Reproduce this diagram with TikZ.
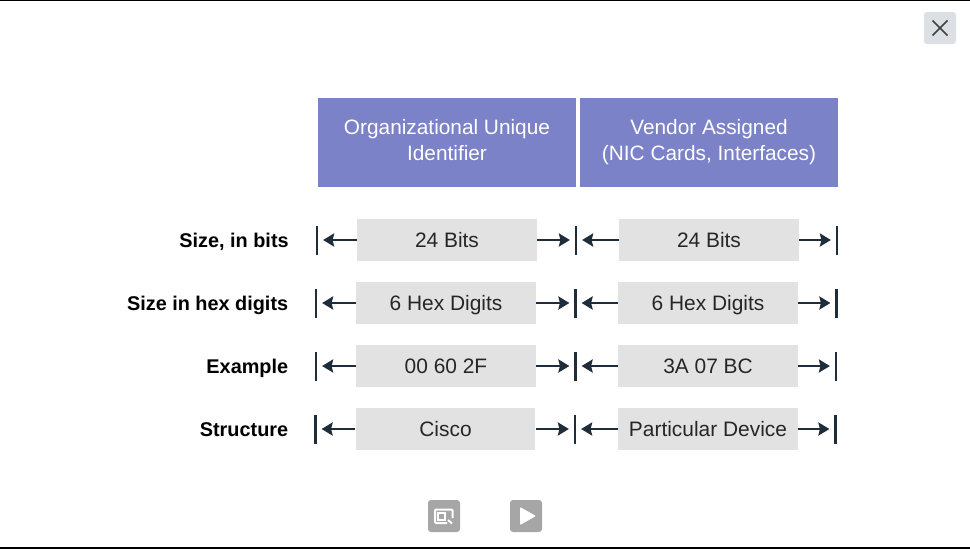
\documentclass[tikz,border=0pt]{standalone}
\usepackage{fontspec}
\setmainfont{Liberation Sans}
\usetikzlibrary{arrows.meta}
\definecolor{headblue}{HTML}{7C82C8}
\definecolor{cellgray}{HTML}{E2E2E2}
\definecolor{linedark}{HTML}{1F2D3A}
\definecolor{btngray}{HTML}{A6A6A6}
\definecolor{closegray}{HTML}{DCDFE3}
\tikzset{
  head/.style={fill=headblue,text=white,minimum width=5.16cm,minimum height=1.78cm,inner sep=0pt,align=center,font=\fontsize{11.85}{14.3}\selectfont},
  cell/.style={fill=cellgray,text=black!85,minimum width=3.6cm,minimum height=0.84cm,inner sep=0pt,text height=9.2pt,text depth=0.7pt,font=\fontsize{11.9}{13}\selectfont},
  rowlabel/.style={anchor=east,inner sep=0pt,text=black,text height=8.9pt,text depth=0.8pt,font=\fontsize{11.3}{13}\selectfont\bfseries},
  tick/.style={fill=linedark,minimum width=0.05cm,minimum height=0.58cm,inner sep=0pt},
  conn/.style={draw=linedark,line width=0.05cm,-{Stealth[length=0.22cm,width=0.26cm,inset=0.03cm]},shorten >=0.09cm},
  btn/.style={rounded corners=0.06cm,minimum size=0.64cm,inner sep=0pt}
}
\begin{document}
\begin{tikzpicture}[x=0.02cm,y=-0.02cm]
  \useasboundingbox (0,0) rectangle (970,549);
  \fill[white] (0,0) rectangle (970,549);
  \fill[black] (0,0) rectangle (970,1);
  \fill[black] (0,547) rectangle (970,548.5);
  % headers
  \node[head] (oui) at (447,142.5) {Organizational Unique\strut\\Identifier\strut};
  \node[head] (vendor) at (709,142.5) {Vendor Assigned\strut\\(NIC Cards, Interfaces)\strut};
  % row labels
  \node[rowlabel] (lbits) at (289,240) {Size, in bits};
  \node[rowlabel] (lhex) at (288.5,303) {Size in hex digits};
  \node[rowlabel] (lexample) at (288.5,366) {Example};
  \node[rowlabel] (lstruct) at (288.5,429.5) {Structure};
  % cells
  \node[cell] (bitsa) at (447,240) {24 Bits};
  \node[cell] (bitsb) at (709,240) {24 Bits};
  \node[cell] (hexa) at (446,303) {6 Hex Digits};
  \node[cell] (hexb) at (708,303) {6 Hex Digits};
  \node[cell] (exa) at (446,366) {00 60 2F};
  \node[cell] (exb) at (708,366) {3A 07 BC};
  \node[cell] (structa) at (445.5,429) {Cisco};
  \node[cell] (structb) at (708,429) {Particular Device};
  % ticks
  \node[tick] (bitst0) at (317,240) {};
  \node[tick] (bitst1) at (576,240) {};
  \node[tick] (bitst2) at (837,240) {};
  \node[tick] (hext0) at (316,303) {};
  \node[tick] (hext1) at (575.5,303) {};
  \node[tick] (hext2) at (836.5,303) {};
  \node[tick] (ext0) at (316,366) {};
  \node[tick] (ext1) at (575.5,366) {};
  \node[tick] (ext2) at (836,366) {};
  \node[tick] (structt0) at (315.5,429) {};
  \node[tick] (structt1) at (575,429) {};
  \node[tick] (structt2) at (835.5,429) {};
  % connectors
  \begin{scope}[conn]
    \draw (bitsa) to (bitst0);
    \draw (bitsa) to (bitst1);
    \draw (bitsb) to (bitst1);
    \draw (bitsb) to (bitst2);
    \draw (hexa) to (hext0);
    \draw (hexa) to (hext1);
    \draw (hexb) to (hext1);
    \draw (hexb) to (hext2);
    \draw (exa) to (ext0);
    \draw (exa) to (ext1);
    \draw (exb) to (ext1);
    \draw (exb) to (ext2);
    \draw (structa) to (structt0);
    \draw (structa) to (structt1);
    \draw (structb) to (structt1);
    \draw (structb) to (structt2);
  \end{scope}
  % close button
  \node[btn,fill=closegray] (close) at (940,28) {};
  \draw[black!75,line width=0.03cm] (932.5,20.5) -- (947.5,35.5);
  \draw[black!75,line width=0.03cm] (947.5,20.5) -- (932.5,35.5);
  % bottom buttons
  \node[btn,fill=btngray] (search) at (444,516) {};
  \node[btn,fill=btngray] (play) at (526,516) {};
  \draw[white,line width=0.04cm,rounded corners=0.02cm] (452.5,518) -- (452.5,509.5) -- (435,509.5) -- (435,523) -- (447,523);
  \draw[white,line width=0.04cm] (437.5,513) rectangle (445,520);
  \draw[white,line width=0.04cm] (448,520) -- (452,523.5);
  \fill[white,rounded corners=0.02cm] (520,507) -- (536,516) -- (520,525) -- cycle;
\end{tikzpicture}
\end{document}
